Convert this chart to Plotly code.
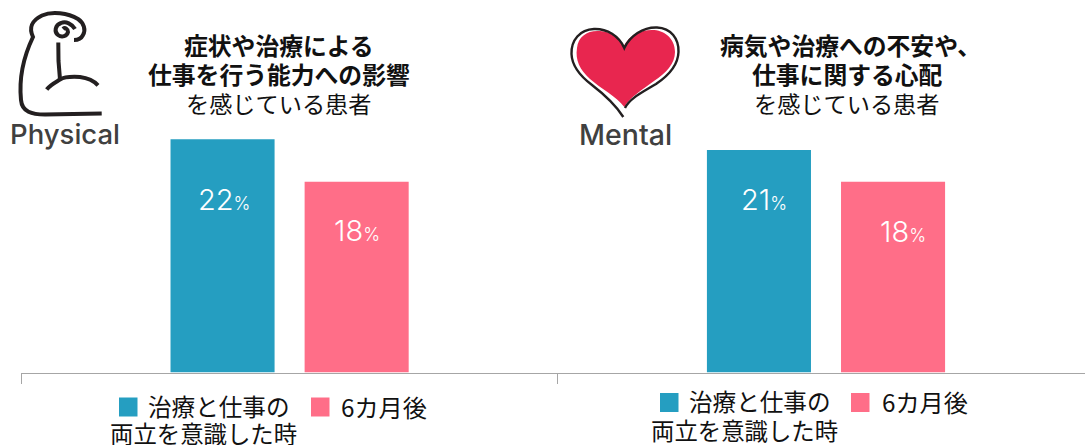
import plotly.graph_objects as go

FONT = "Noto Sans CJK JP"
LATIN = "Inter"
INK = "#111111"

# --- data
panels = ["Physical", "Mental"]
series_names = ["治療と仕事の両立を意識した時", "6カ月後"]
start_values = [22, 21]
after_values = [18, 18]
colors = ["#259EC1", "#FF6E88"]
percent_suffix = "%"

# --- label text
title_lines = [
    [("症状や治療による", True), ("仕事を行う能力への影響", True), ("を感じている患者", False)],
    [("病気や治療への不安や、", True), ("仕事に関する心配", True), ("を感じている患者", False)],
]
legend_first = "治療と仕事の"
legend_second = "両立を意識した時"
legend_after = series_names[1]

W, H = 1085, 445
BASE = 372.5
PX_PER_UNIT = 10.6
SLOT = 536.4

fig = go.Figure()
for name, vals, col in zip(series_names, [start_values, after_values], colors):
    fig.add_bar(name=name, x=panels, y=vals, marker=dict(color=col, line_width=0), showlegend=False)


def pixel_text(x, y, text, size=23.6, color=INK, anchor="center", bold=False, weight=None, family=FONT):
    fig.add_annotation(
        xref="x2", yref="y2", x=x, y=y, text=f"<b>{text}</b>" if bold else text,
        showarrow=False, xanchor=anchor, yanchor="middle", borderpad=0,
        font=dict(family=family, size=size, color=color, **({"weight": weight} if weight else {})),
    )


# value labels inside the bars (each was placed individually in the source)
def value_label(panel, val, group_sign, dx, drop):
    fig.add_annotation(
        xref="x", yref="y", x=panel, y=val, xshift=group_sign * 67 + dx, yshift=-drop,
        text=f'{val}<span style="font-size:18px">{percent_suffix}</span>',
        showarrow=False, xanchor="center", yanchor="middle",
        font=dict(family=LATIN, size=29, color="white", weight=300),
    )


value_label(panels[0], start_values[0], -1, 1, 60.5)
value_label(panels[0], after_values[0], 1, 0.5, 48.5)
value_label(panels[1], start_values[1], -1, 5, 49.5)
value_label(panels[1], after_values[1], 1, 9.5, 49.5)

# headings
for cx, lines in zip([279, 847], title_lines):
    for cy, (txt, bold) in zip([44.5, 73.5, 102.5], lines):
        shift = 3 if txt.endswith("、") else 0
        pixel_text(cx + shift, cy, txt, size=23.8 if bold else 23.2, bold=bold)

# icon captions
pixel_text(65, 134, panels[0], size=27.5, color="#404040", weight=500, family=LATIN)
pixel_text(625, 134, panels[1], size=28.5, color="#404040", weight=500, family=LATIN)

# legends
for sq1, sq2, sy, tx1, ty1, tx2, tx3, ty3 in [
    (119, 311, 407, 147, 406, 340, 109, 433),
    (660, 851, 402.5, 688, 401, 881, 650, 430),
]:
    for sx, col in [(sq1, colors[0]), (sq2, colors[1])]:
        fig.add_shape(type="rect", xref="x2", yref="y2", x0=sx, x1=sx + 18.5, y0=sy - 9.5, y1=sy + 9.5,
                      fillcolor=col, line_width=0)
    pixel_text(tx1, ty1, legend_first, anchor="left")
    pixel_text(tx2, ty1, legend_after, anchor="left", size=24.2)
    pixel_text(tx3, ty3, legend_second, anchor="left", size=23.4)

# arm icon
arm_paths = [
    "M101.7,113.5 L45,114.5 C32,114.5 22,112 21,100 C19,80 22,60 33,37 C28,26 33,20 42,15.5 "
    "C52,11 68,13 78,19 C84,23 86,30 83,35 C81,39 77,40 74,40",
    "M75,29 C72,24 66,21 61,23 C55,25 54,32 58,35 C62,38 67,36 68,32 C68,29 65,27 63,29",
    "M58.3,42.5 L58.5,61 L60,79.5",
    "M46.7,89.5 C50,85 56,82 60,79.5 C64,77 72,76.5 80,77 C88,78 94,81 98,85.3",
]
for p in arm_paths:
    fig.add_shape(type="path", xref="x2", yref="y2", path=p, line=dict(color="#231F20", width=4))

# heart icon
heart_fill = ("M623.7,46 C618,36 610,32 600,31 C588,30 578,36 577,48 C575,60 580,70 590,79 "
              "C600,88 616,96 624.3,107 C630,97 642,90 654,81 C666,73 675,64 675,52 "
              "C675,38 664,30 652,30 C640,30 630,35 623.7,46 Z")
heart_line = ("M623.3,117 C617,107 605,95 592,85 C580,76 572,66 571.5,54 C571,40 580,29.5 594,29 "
              "C607,28.5 619,36 624.3,48 C630,36 643,27 657,27.5 C671,28 679,39 678.5,52 "
              "C678,66 668,76 656,84 C643,92 630,98 625,108")
fig.add_shape(type="path", xref="x2", yref="y2", path=heart_fill, fillcolor="#E8264F", line_width=0)
fig.add_shape(type="path", xref="x2", yref="y2", path=heart_line, line=dict(color="#231F20", width=2.4))

fig.update_layout(
    width=W, height=H, margin=dict(l=0, r=0, t=0, b=0, pad=0),
    paper_bgcolor="white", plot_bgcolor="rgba(0,0,0,0)",
    barmode="group", bargap=0.5, bargroupgap=0.224,
    font=dict(family=FONT),
    xaxis=dict(
        domain=[21.4 / W, 1], range=[-0.5, -0.5 + (W - 21.4) / SLOT], anchor="y",
        type="category", tickson="boundaries", ticks="outside", ticklen=10, tickwidth=1.3,
        tickcolor="#A6A6A6", showticklabels=False, showline=True, linecolor="#A6A6A6", linewidth=1.3,
        showgrid=False, zeroline=False,
    ),
    yaxis=dict(
        domain=[(H - BASE) / H, 1], range=[0, BASE / PX_PER_UNIT], anchor="x",
        visible=False, showgrid=False, zeroline=False,
    ),
    xaxis2=dict(domain=[0, 1], range=[0, W], anchor="y2", visible=False, fixedrange=True),
    yaxis2=dict(domain=[0, 1], range=[H, 0], anchor="x2", visible=False, fixedrange=True),
)

fig.write_html("out.html", config={"displayModeBar": False},
               post_script="document.body.style.margin='0';document.body.style.overflow='hidden';")
